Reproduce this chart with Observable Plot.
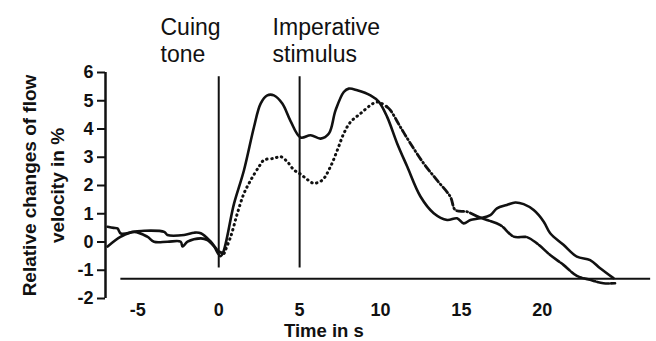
<!DOCTYPE html>
<html>
<head>
<meta charset="utf-8">
<script src="https://cdn.jsdelivr.net/npm/d3@7"></script>
<script src="https://cdn.jsdelivr.net/npm/@observablehq/plot@0.6"></script>
<style>
  html, body { margin: 0; padding: 0; background: #fff; }
  #chart svg { display: block; }
</style>
</head>
<body>
<div id="chart"></div>
<script>
// Solid series (time in s, relative change in %)
const solidT = [-6.87,-6.05,-5.23,-4.42,-4.0,-3.17,-2.35,-2.24,-1.93,-1.11,-0.7,-0.29,0.12,0.95,1.56,2.18,2.59,3.0,3.41,3.93,4.44,5.06,5.68,6.3,6.81,7.22,7.73,8.04,8.56,9.38,9.9,10.41,11.03,11.65,12.47,13.29,14.12,14.73,15.14,15.56,16.17,16.79,17.2,17.81,18.33,18.85,19.47,20.09,20.49,21.31,22.14,22.96,23.58,24.4];
const solidV = [-0.16,0.19,0.36,0.19,0.01,0.01,0.01,-0.16,0.01,0.13,0.07,-0.16,-0.5,1.37,2.54,4.07,4.9,5.19,5.19,4.9,4.28,3.7,3.78,3.66,3.84,4.66,5.31,5.43,5.37,5.19,4.96,4.43,3.49,2.67,1.61,1.02,0.78,0.84,0.66,0.78,0.84,0.95,1.19,1.31,1.4,1.34,1.13,0.72,0.31,-0.1,-0.52,-0.64,-0.93,-1.28];

// Dotted series
const dotT = [-6.87,-6.5,-6.26,-6.05,-5.23,-4.6,-3.37,-3.17,-2.14,-1.52,-1.11,-0.49,0.02,0.33,0.74,1.15,1.56,1.98,2.49,2.8,3.41,3.83,4.24,4.65,5.06,5.5,5.88,6.4,6.91,7.33,7.73,8.15,8.77,9.38,9.8,10.41,10.62,11.23,11.85,12.67,13.49,14.32,14.63,15.35,16.0,16.58,17.41,18.23,19.05,19.67,20.49,21.31,22.14,22.96,23.78,24.5];
const dotV = [0.54,0.5,0.48,0.3,0.36,0.4,0.36,0.25,0.25,0.33,0.31,0.01,-0.34,-0.4,0.19,1.01,1.72,2.19,2.67,2.9,2.96,3.02,2.84,2.55,2.4,2.2,2.08,2.19,2.67,3.25,3.84,4.25,4.55,4.84,4.96,4.78,4.66,4.07,3.49,2.78,2.19,1.6,1.13,1.07,0.9,0.78,0.6,0.19,0.17,-0.05,-0.46,-0.81,-1.2,-1.34,-1.46,-1.46];

// Events
const eventT = [0, 5];
const eventLabels = ["Cuing\ntone", "Imperative\nstimulus"];
const eventLabelT = [-3.6, 3.33];

// Axes
const xTicks = [-5, 0, 5, 10, 15, 20];
const yTicks = [-2, -1, 0, 1, 2, 3, 4, 5, 6];
const yTitle = "Relative changes of flow\nvelocity in %";
const xTitle = "Time in s";
const baselineValue = -1.3;

const solid = solidT.map((t, i) => ({t, v: solidV[i]}));
const dotted = dotT.map((t, i) => ({t, v: dotV[i]}));
const events = eventT.map((t, i) => ({t, label: eventLabels[i], lt: eventLabelT[i]}));

const ink = "#111";
const font = "'Liberation Sans', Arial, sans-serif";

const dotA = dotted.filter(d => d.t <= 0.33);
const dotB = dotted.filter(d => d.t >= 0.33 && d.t <= 10.41);
const dotC = dotted.filter(d => d.t >= 10.41 && d.t <= 16.0);
const dotD = dotted.filter(d => d.t >= 16.0);

const chart = Plot.plot({
  width: 656,
  height: 341,
  marginLeft: 105,
  marginRight: 1,
  marginTop: 72,
  marginBottom: 43,
  style: {fontFamily: font, fontSize: "18px", color: ink, background: "#fff"},
  x: {domain: [-7, 27]},
  y: {domain: [-2, 6]},
  marks: [
    // y axis line
    Plot.ruleX([-7], {y1: -2, y2: 6, stroke: ink, strokeWidth: 2.5}),
    Plot.axisY({ticks: yTicks, tickSize: 8, tickPadding: 4, strokeWidth: 2, stroke: ink,
      tickFormat: d => String(d), fontWeight: "bold", fontSize: 18, label: null}),
    Plot.axisX({ticks: xTicks, tickSize: 0, tickPadding: 5,
      tickFormat: d => String(d), fontWeight: "bold", fontSize: 18, label: null}),
    // horizontal baseline
    Plot.ruleY([baselineValue], {x1: -6.05, x2: 26.7, stroke: ink, strokeWidth: 2}),
    // event lines
    Plot.ruleX(events, {x: "t", y1: -0.92, y2: 5.85, stroke: ink, strokeWidth: 2}),
    Plot.text(events, {x: "lt", frameAnchor: "top", text: "label", textAnchor: "start",
      lineAnchor: "top", dy: -57, fontSize: 23, lineHeight: 1.17, fill: ink}),
    // series
    Plot.line(solid, {x: "t", y: "v", stroke: ink, strokeWidth: 2.6, curve: "catmull-rom"}),
    Plot.line(dotA, {x: "t", y: "v", stroke: ink, strokeWidth: 2.6, curve: "catmull-rom"}),
    Plot.line(dotB, {x: "t", y: "v", stroke: ink, strokeWidth: 3, curve: "catmull-rom",
      strokeDasharray: "0.5,4.5", strokeLinecap: "round"}),
    Plot.line(dotC, {x: "t", y: "v", stroke: ink, strokeWidth: 2.8, curve: "catmull-rom",
      strokeDasharray: "7,3,1,3", strokeLinecap: "round"}),
    Plot.line(dotD, {x: "t", y: "v", stroke: ink, strokeWidth: 2.6, curve: "catmull-rom",
      strokeDasharray: "12,2"}),
    // axis titles
    Plot.text([yTitle], {frameAnchor: "left", text: d => d, rotate: -90, dx: -64,
      textAnchor: "middle", lineAnchor: "middle",
      fontWeight: "bold", fontSize: 19, lineHeight: 1.47, fill: ink}),
    Plot.text([xTitle], {x: () => 6.5, frameAnchor: "bottom", text: d => d, lineAnchor: "top", dy: 25,
      fontWeight: "bold", fontSize: 18.5, fill: ink})
  ]
});
document.getElementById("chart").appendChild(chart);
</script>
</body>
</html>
